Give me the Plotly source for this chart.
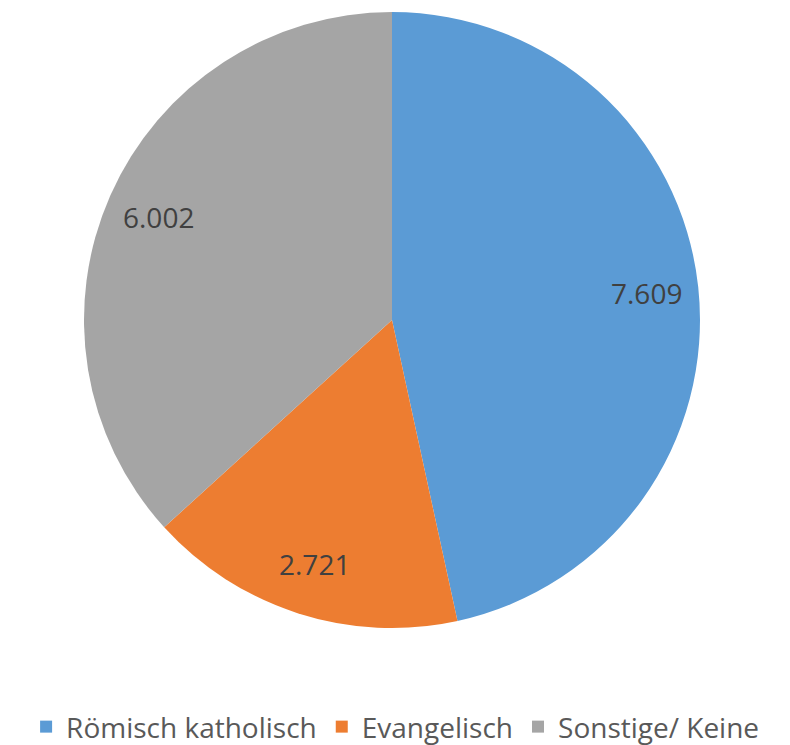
import math
import plotly.graph_objects as go

labels = ["Römisch katholisch", "Evangelisch", "Sonstige/ Keine"]
values = [7609, 2721, 6002]
colors = ["#5B9BD5", "#ED7D31", "#A5A5A5"]

# plot area geometry (pixels)
W, H = 790, 745
ML, MR, MT, MB = 0, 22, 4, 125
PW, PH = W - ML - MR, H - MT - MB
R = min(PW, PH) / 2
LABEL_R = 0.83

fig = go.Figure(go.Pie(
    labels=labels,
    values=values,
    sort=False,
    direction="clockwise",
    rotation=0,
    marker=dict(colors=colors, line=dict(color="white", width=0)),
    textinfo="none",
    hoverinfo="label+value",
))

# value labels placed along each slice's bisector
total = sum(values)
cum = 0
annotations = []
for v in values:
    mid = (cum + v / 2) / total * 2 * math.pi
    cum += v
    x = 0.5 + LABEL_R * R * math.sin(mid) / PW
    y = 0.5 + LABEL_R * R * math.cos(mid) / PH
    annotations.append(dict(
        x=x, y=y, xref="paper", yref="paper",
        text=f"{v:,}".replace(",", "."),
        showarrow=False, xanchor="center", yanchor="middle",
        font=dict(family="Open Sans", size=28, color="#404040"),
    ))

fig.update_layout(
    width=W, height=H,
    separators=",.",
    margin=dict(l=ML, r=MR, t=MT, b=MB),
    paper_bgcolor="white",
    plot_bgcolor="white",
    showlegend=True,
    annotations=annotations,
    legend=dict(
        orientation="h",
        xref="container", yref="container",
        x=0.49, xanchor="center",
        y=0.035, yanchor="middle",
        font=dict(family="Open Sans", size=28, color="#595959"),
        itemwidth=30,
    ),
)

fig.write_html("out.html")
